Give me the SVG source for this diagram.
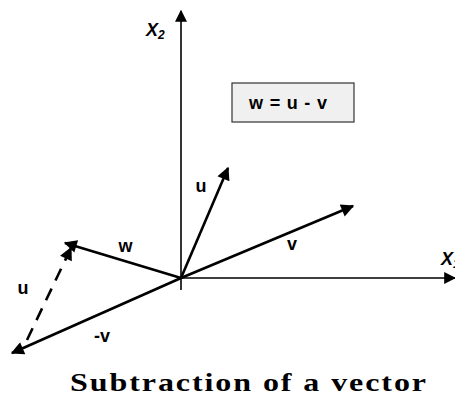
<svg xmlns="http://www.w3.org/2000/svg" width="455" height="404" viewBox="0 0 455 404">
<style>
.lbl{font-family:"Liberation Sans",Arial,sans-serif;font-weight:bold;font-size:18px;fill:#000}
.ax{font-family:"Liberation Sans",Arial,sans-serif;font-weight:bold;font-style:italic;font-size:18px;fill:#000}
.vec{stroke:#000;stroke-width:2.6;fill:none}
.axis{stroke:#000;stroke-width:1.6;fill:none}
</style>
<defs>
<marker id="ah" viewBox="0 0 10 10" refX="9" refY="5" markerWidth="5.5" markerHeight="5" orient="auto" markerUnits="strokeWidth">
<path d="M0,0 L10,5 L0,10 Z" fill="#000"/>
</marker>
<marker id="ahx" viewBox="0 0 10 10" refX="9" refY="5" markerWidth="9" markerHeight="7.5" orient="auto" markerUnits="strokeWidth">
<path d="M0,0 L10,5 L0,10 Z" fill="#000"/>
</marker>
</defs>
<rect width="455" height="404" fill="#fff"/>
<g id="connectors">
<line class="axis" x1="181" y1="290" x2="181" y2="11" marker-end="url(#ahx)"/>
<line class="axis" x1="181" y1="278" x2="455" y2="278" marker-end="url(#ahx)"/>
<line class="vec" x1="181" y1="278" x2="228" y2="168" marker-end="url(#ah)"/>
<line class="vec" x1="181" y1="278" x2="353" y2="206" marker-end="url(#ah)"/>
<line class="vec" x1="181" y1="278" x2="65" y2="243" marker-end="url(#ah)"/>
<line class="vec" x1="181" y1="278" x2="12" y2="353" marker-end="url(#ah)"/>
<line class="vec" x1="27" y1="340" x2="71" y2="248" stroke-dasharray="13,9" marker-end="url(#ah)"/>
</g>
<g id="axis-x2"><text class="ax" x="146" y="36">X<tspan font-size="12" dy="3">2</tspan></text></g>
<g id="axis-x1"><text class="ax" x="441" y="265">X<tspan font-size="12" dy="3">1</tspan></text></g>
<g id="formula">
<rect x="232" y="83" width="122" height="39" fill="#f0f0f0" stroke="#333" stroke-width="1.2"/>
<text class="lbl" x="288" y="109" text-anchor="middle" textLength="78" lengthAdjust="spacing">w = u - v</text>
</g>
<g id="label-u"><text class="lbl" x="201" y="192" text-anchor="middle">u</text></g>
<g id="label-v"><text class="lbl" x="292" y="250" text-anchor="middle">v</text></g>
<g id="label-w"><text class="lbl" x="125.5" y="252" text-anchor="middle">w</text></g>
<g id="label-u2"><text class="lbl" x="23" y="294" text-anchor="middle">u</text></g>
<g id="label-negv"><text class="lbl" x="102" y="342" text-anchor="middle">-v</text></g>
<g id="title"><text x="70" y="391" font-family="'Liberation Serif','Times New Roman',serif" font-weight="bold" font-size="25" letter-spacing="1.5" textLength="358" lengthAdjust="spacingAndGlyphs">Subtraction of a vector</text></g>
</svg>
